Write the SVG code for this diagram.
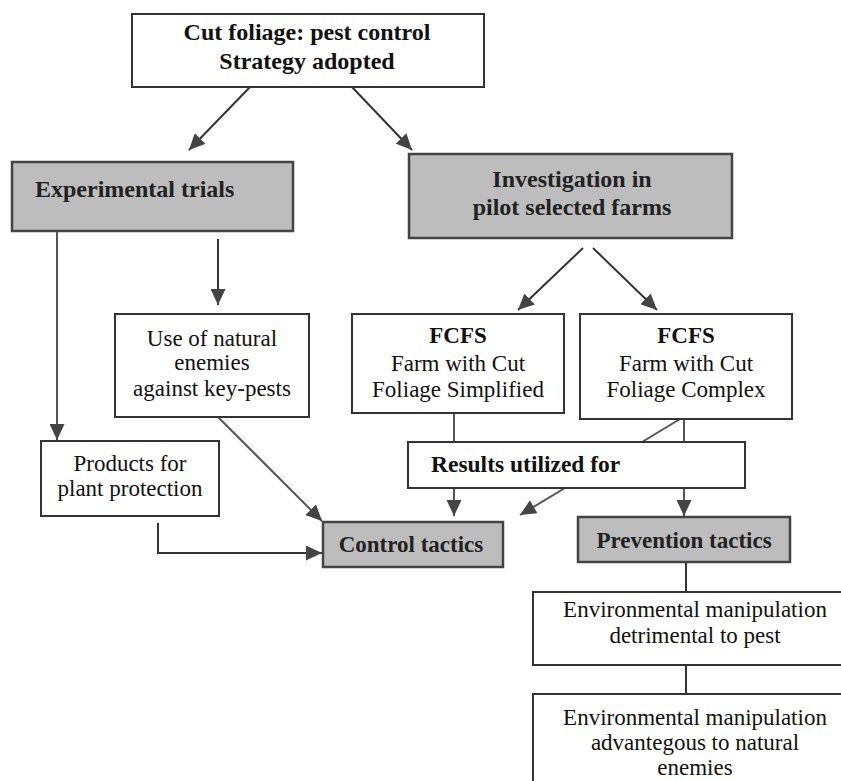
<svg xmlns="http://www.w3.org/2000/svg" width="841" height="781" viewBox="0 0 841 781">
<defs>
<marker id="ah" markerUnits="userSpaceOnUse" markerWidth="17" markerHeight="15" refX="16" refY="7.5" orient="auto">
<path d="M0,0 L16,7.5 L0,15 z" fill="#444"/>
</marker>
<style>
.box{fill:#fff;stroke:#333;stroke-width:2}
.gbox{fill:#bdbdbd;stroke:#444;stroke-width:2.5}
.t{font-family:"Liberation Serif","Times New Roman",serif;font-size:23px;fill:#111;text-anchor:middle}
.b{font-family:"Liberation Serif","Times New Roman",serif;font-size:24px;font-weight:bold;fill:#111;text-anchor:middle}
.bg{font-family:"Liberation Serif","Times New Roman",serif;font-size:23px;font-weight:bold;fill:#222;text-anchor:middle}
.c{fill:none;stroke:#333;stroke-width:2}
.cg{fill:none;stroke:#555;stroke-width:2}
</style>
</defs>
<rect width="841" height="781" fill="#fff"/>
<g id="connectors">
<line class="c" x1="250" y1="87" x2="189" y2="150" marker-end="url(#ah)"/>
<line class="c" x1="352" y1="87" x2="412" y2="150" marker-end="url(#ah)"/>
<line class="c" x1="583" y1="248" x2="518" y2="310" marker-end="url(#ah)"/>
<line class="c" x1="593" y1="248" x2="657" y2="310" marker-end="url(#ah)"/>
<line class="cg" x1="57" y1="231" x2="57" y2="440" marker-end="url(#ah)"/>
<line class="c" x1="218" y1="239" x2="218" y2="305" marker-end="url(#ah)"/>
<line class="cg" x1="218" y1="417" x2="322" y2="521" marker-end="url(#ah)"/>
<polyline class="c" points="158,523 158,553 322,553" marker-end="url(#ah)"/>
<line class="cg" x1="454" y1="413" x2="454" y2="442"/>
<line class="cg" x1="684" y1="419" x2="684" y2="442"/>
<line class="cg" x1="685" y1="416" x2="642" y2="442"/>
<line class="cg" x1="454" y1="488" x2="454" y2="516" marker-end="url(#ah)"/>
<line class="cg" x1="684" y1="488" x2="684" y2="516" marker-end="url(#ah)"/>
<line class="cg" x1="565" y1="488" x2="520" y2="515" marker-end="url(#ah)"/>
<line class="c" x1="686" y1="562" x2="686" y2="592"/>
<line class="c" x1="686" y1="665" x2="686" y2="694"/>
</g>
<g id="top">
<rect class="box" x="132" y="14" width="352" height="73"/>
<text class="b" x="307" y="40">Cut foliage: pest control</text>
<text class="b" x="307" y="69">Strategy adopted</text>
</g>
<g id="experimental">
<rect class="gbox" x="12" y="162" width="281" height="69"/>
<text class="bg" x="35" y="197" style="text-anchor:start;font-size:24px">Experimental trials</text>
</g>
<g id="investigation">
<rect class="gbox" x="409" y="154" width="323" height="84"/>
<text class="bg" x="572" y="187" style="font-size:24px">Investigation in</text>
<text class="bg" x="572" y="215" style="font-size:24px">pilot selected farms</text>
</g>
<g id="natural">
<rect class="box" x="115" y="314" width="194" height="103"/>
<text class="t" x="212" y="346">Use of natural</text>
<text class="t" x="212" y="370">enemies</text>
<text class="t" x="212" y="396">against key-pests</text>
</g>
<g id="products">
<rect class="box" x="41" y="441" width="178" height="75"/>
<text class="t" x="130" y="471">Products for</text>
<text class="t" x="130" y="496">plant protection</text>
</g>
<g id="fcfs-simplified">
<rect class="box" x="352" y="314" width="212" height="99"/>
<text class="b" x="458" y="343" style="font-size:23px">FCFS</text>
<text class="t" x="458" y="371">Farm with Cut</text>
<text class="t" x="458" y="397">Foliage Simplified</text>
</g>
<g id="fcfs-complex">
<rect class="box" x="580" y="314" width="212" height="105"/>
<text class="b" x="686" y="343" style="font-size:23px">FCFS</text>
<text class="t" x="686" y="371">Farm with Cut</text>
<text class="t" x="686" y="397">Foliage Complex</text>
</g>
<g id="results">
<rect class="box" x="408" y="442" width="337" height="46"/>
<text class="b" x="431" y="472" style="text-anchor:start;font-size:23.5px">Results utilized for</text>
</g>
<g id="control">
<rect class="gbox" x="323" y="522" width="180" height="45"/>
<text class="bg" x="411" y="552">Control tactics</text>
</g>
<g id="prevention">
<rect class="gbox" x="578" y="517" width="212" height="45"/>
<text class="bg" x="684" y="548">Prevention tactics</text>
</g>
<g id="env-detrimental">
<rect class="box" x="533" y="592" width="330" height="73"/>
<text class="t" x="695" y="617">Environmental manipulation</text>
<text class="t" x="695" y="643">detrimental to pest</text>
</g>
<g id="env-advantageous">
<rect class="box" x="533" y="694" width="330" height="110"/>
<text class="t" x="695" y="725">Environmental manipulation</text>
<text class="t" x="695" y="750">advantegous to natural</text>
<text class="t" x="695" y="775">enemies</text>
</g>
</svg>
